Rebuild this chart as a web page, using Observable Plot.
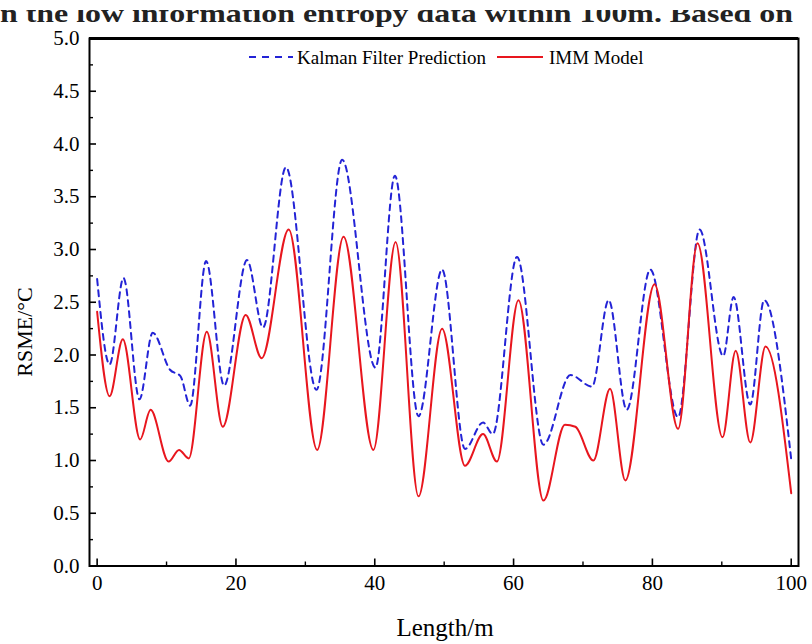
<!DOCTYPE html>
<html>
<head>
<meta charset="utf-8">
<script src="https://cdn.jsdelivr.net/npm/d3@7"></script>
<script src="https://cdn.jsdelivr.net/npm/@observablehq/plot@0.6"></script>
<style>
  body { margin: 0; background: #fff; }
  #wrap { position: relative; width: 812px; height: 644px; overflow: hidden;
          font-family: "Liberation Serif", "Times New Roman", serif; color: #000; }
  #wrap svg.overlay { position: absolute; left: 0; top: 0; }
  #ylab { position: absolute; left: 25px; top: 332px; font-size: 22px; white-space: nowrap;
          transform: translate(-50%, -50%) rotate(-90deg); }
  #xlab { position: absolute; left: 445px; top: 614px; font-size: 25px; white-space: nowrap;
          transform: translateX(-50%); line-height: normal; }
</style>
</head>
<body>
<div id="wrap"></div>
<script>
// ---- data ----
const immX = [0, 1.8, 3.7, 6.2, 7.7, 10.3, 11.8, 13.2, 15.8, 18.1, 21.4, 23.7, 27.6, 31.7, 35.5, 39.8, 43.0, 46.3, 49.7, 53.0, 55.6, 57.6, 60.7, 64.3, 67.4, 68.9, 71.5, 73.9, 76.1, 80.3, 83.7, 86.5, 90.1, 92.0, 94.1, 96.3, 100];
const immY = [2.41, 1.61, 2.15, 1.20, 1.48, 0.99, 1.10, 1.02, 2.22, 1.32, 2.38, 1.97, 3.19, 1.10, 3.12, 1.10, 3.07, 0.66, 2.25, 0.95, 1.25, 0.99, 2.52, 0.62, 1.34, 1.32, 1.00, 1.68, 0.81, 2.67, 1.30, 3.06, 1.22, 2.04, 1.17, 2.08, 0.69];

const kalmanX = [0, 1.8, 3.8, 6.1, 8.0, 10.5, 12.0, 13.4, 15.7, 18.3, 21.6, 23.9, 27.2, 31.6, 35.3, 40.1, 42.9, 46.3, 49.7, 53.0, 55.6, 57.0, 60.5, 64.3, 68.2, 71.3, 73.7, 76.3, 79.7, 83.7, 86.8, 90.2, 91.7, 94.1, 96.1, 100];
const kalmanY = [2.72, 1.91, 2.73, 1.58, 2.21, 1.86, 1.80, 1.52, 2.89, 1.71, 2.90, 2.26, 3.78, 1.67, 3.85, 1.88, 3.70, 1.42, 2.81, 1.11, 1.36, 1.25, 2.93, 1.15, 1.81, 1.70, 2.52, 1.48, 2.81, 1.41, 3.19, 1.99, 2.55, 1.53, 2.52, 1.01];

const xMajorTicks = [0, 20, 40, 60, 80, 100];
const xMinorTicks = [10, 30, 50, 70, 90];
const yMajorTicks = [0, 0.5, 1.0, 1.5, 2.0, 2.5, 3.0, 3.5, 4.0, 4.5, 5.0];
const yMinorTicks = [0.25, 0.75, 1.25, 1.75, 2.25, 2.75, 3.25, 3.75, 4.25, 4.75];

const seriesNames = ["Kalman Filter Prediction", "IMM Model"];
const xTitle = "Length/m";
const yTitle = "RSME/\u00B0C";
const headerText = "n the low information entropy data within 100m. Based on";

const kalman = kalmanX.map((x, i) => ({x, y: kalmanY[i]}));
const imm = immX.map((x, i) => ({x, y: immY[i]}));

const blue = "#2323d6";
const red = "#e8161e";

const chart = Plot.plot({
  width: 812,
  height: 644,
  marginTop: 38,
  marginBottom: 78.5,
  marginLeft: 89,
  marginRight: 14,
  x: {domain: [-1.1, 101.05]},
  y: {domain: [0, 5]},
  style: {fontFamily: "'Liberation Serif', 'Times New Roman', serif", fontSize: "21px", color: "#000", background: "transparent"},
  marks: [
    Plot.line(kalman, {x: "x", y: "y", stroke: blue, strokeWidth: 2, strokeDasharray: "6,5", curve: "monotone-x"}),
    Plot.line(imm, {x: "x", y: "y", stroke: red, strokeWidth: 2, curve: "monotone-x"}),
    // tick labels
    Plot.axisX(xMajorTicks, {anchor: "bottom", tickSize: 0, tickPadding: 9, label: null}),
    Plot.axisY(yMajorTicks, {anchor: "left", tickSize: 0, tickPadding: 10, tickFormat: d3.format(".1f"), label: null}),
    // inward ticks
    Plot.axisX(xMajorTicks, {anchor: "bottom", tickSize: 7, dy: -7, fill: "none", strokeWidth: 1.6, label: null}),
    Plot.axisX(xMinorTicks, {anchor: "bottom", tickSize: 4, dy: -4, fill: "none", strokeWidth: 1.4, label: null}),
    Plot.axisY(yMajorTicks, {anchor: "left", tickSize: 7, dx: 7, fill: "none", strokeWidth: 1.6, label: null}),
    Plot.axisY(yMinorTicks, {anchor: "left", tickSize: 4, dx: 4, fill: "none", strokeWidth: 1.4, label: null}),
    Plot.frame({stroke: "#000", strokeWidth: 2}),
    Plot.ruleY([5], {stroke: "#000", strokeWidth: 3})
  ]
});

const wrap = document.getElementById("wrap");
wrap.appendChild(chart);

// cut-off header text strip (from the surrounding page)
const ns = "http://www.w3.org/2000/svg";
const header = document.createElementNS(ns, "svg");
header.setAttribute("class", "overlay");
header.setAttribute("width", 812);
header.setAttribute("height", 27);
header.innerHTML =
  `<text x="0" y="22" font-family="Liberation Serif, serif" font-size="25" font-weight="bold" fill="#222" textLength="793" lengthAdjust="spacingAndGlyphs">${headerText}</text>` +
  `<rect x="0" y="0" width="812" height="10" fill="#fff"/>`;
wrap.appendChild(header);

// legend inside the frame
const legend = document.createElementNS(ns, "svg");
legend.setAttribute("class", "overlay");
legend.setAttribute("width", 812);
legend.setAttribute("height", 80);
legend.innerHTML =
  `<line x1="249" x2="293" y1="57" y2="57" stroke="${blue}" stroke-width="2" stroke-dasharray="7,6"/>` +
  `<text x="297" y="63.5" font-family="Liberation Serif, serif" font-size="19" fill="#000">${seriesNames[0]}</text>` +
  `<line x1="497" x2="543" y1="57" y2="57" stroke="${red}" stroke-width="2"/>` +
  `<text x="549" y="63.5" font-family="Liberation Serif, serif" font-size="19" fill="#000">${seriesNames[1]}</text>`;
wrap.appendChild(legend);

const yl = document.createElement("div");
yl.id = "ylab";
yl.textContent = yTitle;
wrap.appendChild(yl);

const xl = document.createElement("div");
xl.id = "xlab";
xl.textContent = xTitle;
wrap.appendChild(xl);
</script>
</body>
</html>
